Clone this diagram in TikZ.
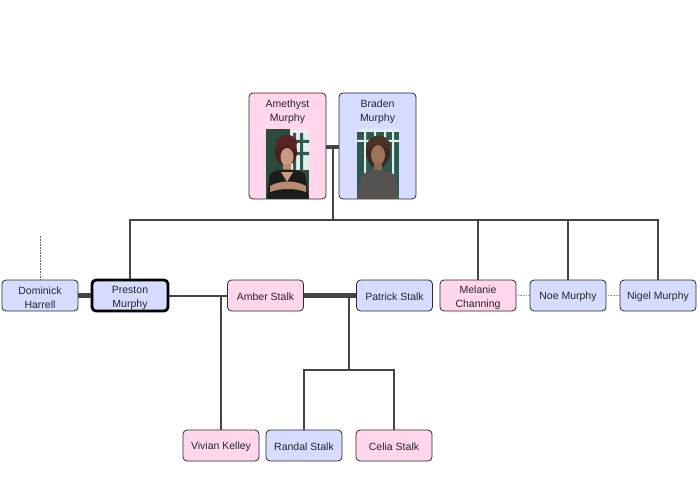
\documentclass[tikz,border=0pt]{standalone}
\usepackage{fontspec}
\setmainfont{Liberation Sans}
\definecolor{pinkc}{HTML}{FFD6EC}
\definecolor{bluec}{HTML}{D6DCFF}
\definecolor{linec}{HTML}{444444}
\definecolor{bordc}{HTML}{2A2A2A}
\definecolor{aBg}{HTML}{2E4A3C}
\definecolor{aWin}{HTML}{E6EEEA}
\definecolor{aBar}{HTML}{2F5B52}
\definecolor{aHairD}{HTML}{4A1E1E}
\definecolor{aHair}{HTML}{5A2222}
\definecolor{aSkin}{HTML}{C49A80}
\definecolor{aSkinD}{HTML}{B88A70}
\definecolor{aTop}{HTML}{1C1C1C}
\definecolor{bWin}{HTML}{E4ECE8}
\definecolor{bBar}{HTML}{2C5A50}
\definecolor{bHairD}{HTML}{3A2A20}
\definecolor{bHair}{HTML}{4A3324}
\definecolor{bSkin}{HTML}{9C7458}
\definecolor{bSkinD}{HTML}{8E6A52}
\definecolor{bShirt}{HTML}{55524F}
\begin{document}
\begin{tikzpicture}[x=1pt,y=-1pt,
  person/.style={draw=bordc, rounded corners=4pt, line width=0.8pt, minimum height=31pt,
    minimum width=76pt, inner sep=0pt},
  female/.style={person, fill=pinkc},
  male/.style={person, fill=bluec},
  lbl/.style={align=center, inner sep=0pt, font=\fontsize{10.5}{14}\selectfont, text=black!85},
  link/.style={draw=linec, line width=2pt},
  couple/.style={draw=linec, line width=4.5pt},
  faint/.style={draw=black!60, line width=0.9pt, dash pattern=on 0.8pt off 0.8pt}]
\useasboundingbox (0,0) rectangle (700,481);
\fill[white] (0,0) rectangle (700,481);

% ---------- parents ----------
\node[female, minimum width=77pt, minimum height=106pt] (ame) at (287.5,146) {};
\node[male,   minimum width=77pt, minimum height=106pt] (bra) at (377.5,146) {};
\node[lbl, anchor=north] (amet) at ([yshift=-7pt]ame.north) {Amethyst\\Murphy};
\node[lbl, anchor=north] (brat) at ([yshift=-7pt]bra.north) {Braden\\Murphy};

% photo of Amethyst
\begin{scope}
\clip (266,129) rectangle (309,198.5);
\fill[aBg] (266,129) rectangle (309,199);
\fill[aWin] (290,129) rectangle (309,170);
\fill[aBar] (293,133) rectangle (296,170) (300,133) rectangle (303,170) (290,140) rectangle (309,143) (290,152) rectangle (309,155);
\fill[aHairD] (286,152) ellipse (11pt and 14pt);
\fill[aSkin] (287,157) ellipse (6.5pt and 9pt);
\fill[aHair] (276,142) .. controls (282,132) and (292,132) .. (297,142) -- (296,150) .. controls (292,145) and (282,145) .. (278,150) -- cycle;
\fill[aSkinD] (283,164) rectangle (291,172);
\fill[aTop] (270,174) .. controls (276,168) and (298,168) .. (305,174) -- (309,199) -- (267,199) -- cycle;
\fill[aSkin] (281,172) -- (287,182) -- (293,172) -- cycle;
\fill[aSkinD] (270,186) .. controls (280,180) and (296,180) .. (306,186) -- (306,192) .. controls (296,188) and (280,188) .. (270,192) -- cycle;
\end{scope}

% photo of Braden
\begin{scope}
\clip (357,129) rectangle (399,198.5);
\fill[bBar] (357,129) rectangle (399,199);
\fill[bWin] (357,129) rectangle (399,132) (357,140) rectangle (399,142) (364,132) rectangle (366,185) (374,132) rectangle (376,142) (384,132) rectangle (386,142) (392,132) rectangle (394,185);
\fill[bHairD] (378,152) ellipse (12pt and 16pt);
\fill[bSkin] (378,155) ellipse (7pt and 10pt);
\fill[bHair] (366,146) .. controls (370,132) and (388,132) .. (391,146) -- (388,150) .. controls (383,143) and (373,143) .. (368,150) -- cycle;
\fill[bSkinD] (374,163) rectangle (382,171);
\fill[bShirt] (361,176) .. controls (368,168) and (388,168) .. (396,176) -- (399,199) -- (357,199) -- cycle;
\end{scope}

% ---------- children row ----------
\node[male] (dom) at (40,295.5) {};
\node[male, draw=black, line width=2.8pt] (pre) at (130,295.5) {};
\node[female] (amb) at (265.5,295.5) {};
\node[male]   (pat) at (394.5,295.5) {};
\node[female] (mel) at (478,295.5) {};
\node[male]   (noe) at (568,295.5) {};
\node[male]   (nig) at (658,295.5) {};

% ---------- grandchildren ----------
\node[female] (viv) at (221,445.5) {};
\node[male]   (ran) at (304,445.5) {};
\node[female] (cel) at (394,445.5) {};

% ---------- labels ----------
\node[lbl] (domt) at ([yshift=-2.5pt]dom.center) {Dominick\\Harrell};
\node[lbl] (pret) at ([yshift=-2.5pt]pre.center) {Preston\\Murphy};
\node[lbl] (ambt) at ([yshift=-1.5pt]amb.center) {Amber Stalk};
\node[lbl] (patt) at ([yshift=-1.5pt]pat.center) {Patrick Stalk};
\node[lbl] (melt) at ([yshift=-2.5pt]mel.center) {Melanie\\Channing};
\node[lbl] (noet) at ([yshift=-1.5pt]noe.center) {Noe Murphy};
\node[lbl] (nigt) at ([yshift=-1.5pt]nig.center) {Nigel Murphy};
\node[lbl] (vivt) at ([yshift=-1.5pt]viv.center) {Vivian Kelley};
\node[lbl] (rant) at ([yshift=-1.5pt]ran.center) {Randal Stalk};
\node[lbl] (celt) at ([yshift=-1.5pt]cel.center) {Celia Stalk};

% ---------- connectors ----------
\coordinate (cpar) at (333,147);
\coordinate (bus) at (333,220);
\coordinate (domtop) at (40,235);
\coordinate (ap) at (349,295.5);
\coordinate (kids) at (349,370);

\draw[couple] (ame.east |- cpar) -- (bra.west |- cpar);
\draw[link] (cpar) -- (bus);
\draw[link] (pre.north) -- (pre.north |- bus) -- (nig.north |- bus) -- (nig.north);
\draw[link] (mel.north |- bus) -- (mel.north);
\draw[link] (noe.north |- bus) -- (noe.north);

\draw[faint] (dom.north) -- (domtop);
\draw[couple] (dom.east) -- (pre.west);
\draw[link] (pre.east) -- (amb.west);
\draw[link] (viv.north) |- (pre.east);
\draw[couple] (amb.east) -- (pat.west);
\draw[link] (ap) -- (kids);
\draw[link] (ran.north) |- (kids) -| (cel.north);

\draw[faint, draw=black!40] (mel.east) -- (noe.west);
\draw[faint, draw=black!40] (noe.east) -- (nig.west);
\end{tikzpicture}
\end{document}
